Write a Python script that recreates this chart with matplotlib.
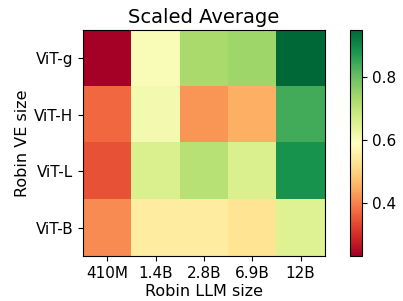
import matplotlib
matplotlib.use("Agg")
import matplotlib.pyplot as plt
import numpy as np

llm_sizes = ["410M", "1.4B", "2.8B", "6.9B", "12B"]
ve_sizes = ["ViT-g", "ViT-H", "ViT-L", "ViT-B"]

# Scaled average score per (vision encoder, LLM) pair
row_vit_g = [0.23, 0.60, 0.73, 0.74, 0.95]
row_vit_h = [0.37, 0.61, 0.42, 0.45, 0.84]
row_vit_l = [0.345, 0.66, 0.71, 0.66, 0.885]
row_vit_b = [0.41, 0.55, 0.55, 0.53, 0.65]

scores = np.array([row_vit_g, row_vit_h, row_vit_l, row_vit_b])

fig = plt.figure(figsize=(4.03, 3.01), dpi=100)
ax = fig.add_axes([0.206, 0.1495, 0.600, 0.751])
cax = fig.add_axes([0.868, 0.1495, 0.030, 0.751])

im = ax.imshow(scores, cmap="RdYlGn", aspect="auto")
ax.set_xticks(range(len(llm_sizes)))
ax.set_xticklabels(llm_sizes)
ax.set_yticks(range(len(ve_sizes)))
ax.set_yticklabels(ve_sizes)
ax.tick_params(labelsize=11)
ax.set_xlabel("Robin LLM size", fontsize=11.5, labelpad=2)
ax.set_ylabel("Robin VE size", fontsize=11.5, labelpad=3)
ax.set_title("Scaled Average", fontsize=14, pad=5)

cb = fig.colorbar(im, cax=cax)
cb.set_ticks([0.4, 0.6, 0.8])
cb.ax.tick_params(labelsize=11)

fig.savefig("out.png", dpi=100)
